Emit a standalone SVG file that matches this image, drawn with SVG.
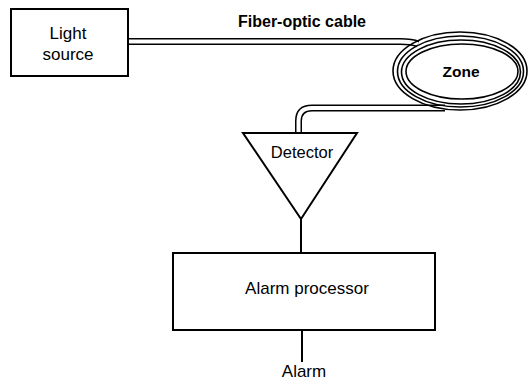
<svg xmlns="http://www.w3.org/2000/svg" width="530" height="381" viewBox="0 0 530 381">
<style>
.box{fill:#fff;stroke:#000;stroke-width:2}
.ln{fill:none;stroke:#000;stroke-width:2}
.cab{fill:none;stroke:#000;stroke-width:7}
.cabw{fill:none;stroke:#fff;stroke-width:4}
.ring{fill:none;stroke:#000;stroke-width:1.6}
.t{font-family:"Liberation Sans",Arial,sans-serif;font-size:17px;fill:#000;text-anchor:middle}
.b{font-weight:bold}
</style>
<rect width="530" height="381" fill="#fff"/>
<g id="connectors">
<path class="cab" d="M128,41.5 L400,41.5 Q412,41.5 418,44"/>
<path class="cabw" d="M127,41.5 L400,41.5 Q412,41.5 418,44"/>
<path class="cab" d="M445,108 L312,108 Q298.5,108 298.5,121 L298.5,134"/>
<path class="cabw" d="M446,108 L312,108 Q298.5,108 298.5,121 L298.5,135"/>
<line class="ln" x1="301" y1="218" x2="301" y2="253"/>
<line class="ln" x1="302" y1="330" x2="302" y2="362"/>
</g>
<g id="light-source">
<rect class="box" x="11" y="9" width="117" height="67"/>
<text class="t" x="68" y="39">Light</text>
<text class="t" x="68" y="60">source</text>
</g>
<g id="cable-label">
<text class="t b" x="302" y="27" style="font-size:16px">Fiber-optic cable</text>
</g>
<g id="zone">
<ellipse class="ring" cx="460" cy="71" rx="67" ry="39"/>
<ellipse class="ring" cx="460.5" cy="71.5" rx="63" ry="35.5"/>
<ellipse class="ring" cx="461" cy="72" rx="59.5" ry="32"/>
<ellipse class="ring" cx="462" cy="71.5" rx="56" ry="27.5"/>
<text class="t b" x="461" y="77" style="font-size:15.5px">Zone</text>
</g>
<g id="detector">
<polygon class="box" points="243,133 357,133 301,219"/>
<text class="t" x="302" y="158" style="font-size:16.5px">Detector</text>
</g>
<g id="alarm-processor">
<rect class="box" x="173" y="253" width="262" height="77"/>
<text class="t" x="307" y="294">Alarm processor</text>
</g>
<g id="alarm">
<text class="t" x="304" y="377">Alarm</text>
</g>
</svg>
